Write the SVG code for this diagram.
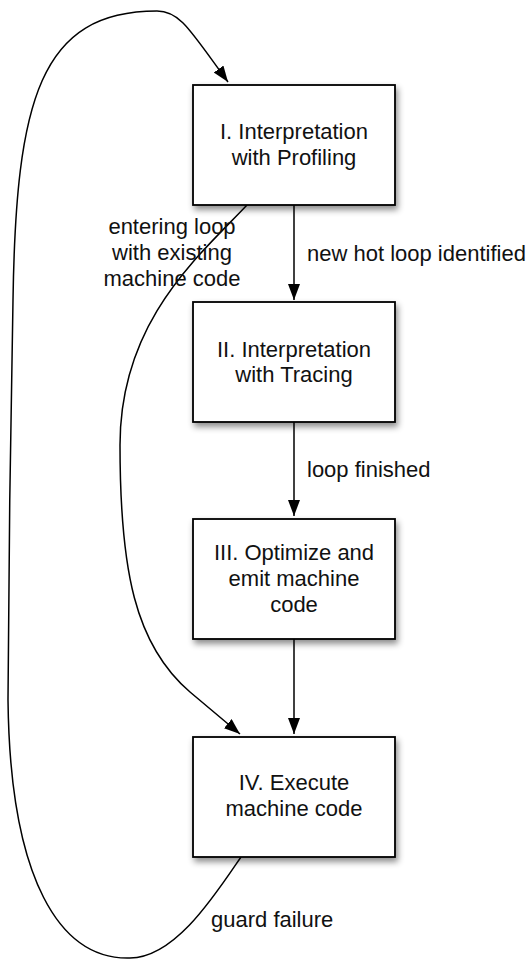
<svg xmlns="http://www.w3.org/2000/svg" width="530" height="960" viewBox="0 0 530 960">
<style>
.box{fill:#fff;stroke:#000;stroke-width:1.8;filter:url(#sh)}
.t{font-family:"Liberation Sans",Arial,sans-serif;font-size:22px;fill:#111}
.c{text-anchor:middle}
.e{fill:none;stroke:#000;stroke-width:1.5}
</style>
<defs>
<filter id="sh" x="-20%" y="-20%" width="140%" height="150%">
<feDropShadow dx="2" dy="4" stdDeviation="3" flood-color="#000" flood-opacity="0.45"/>
</filter>
<marker id="ah" markerUnits="userSpaceOnUse" markerWidth="17" markerHeight="13" refX="16" refY="6" orient="auto">
<path d="M0,0 L16,6 L0,12 z" fill="#000"/>
</marker>
</defs>
<rect width="530" height="960" fill="#fff"/>
<g id="connectors">
<path class="e" d="M294 205 L294 300" marker-end="url(#ah)"/>
<path class="e" d="M294 422 L294 516" marker-end="url(#ah)"/>
<path class="e" d="M294 639 L294 734" marker-end="url(#ah)"/>
<path class="e" d="M247 205 C200 255,120 320,120 445 C120 570,135 645,190 692 L240 734" marker-end="url(#ah)"/>
<path class="e" d="M241 857 C215 895,175 958,130 958 C60 960,10 880,8 700 C8 600,11 400,13 300 C16 100,40 11,157 11 C180 11,190 30,228 82" marker-end="url(#ah)"/>
<text class="t" x="307" y="261">new hot loop identified</text>
<text class="t" x="307" y="477">loop finished</text>
<text class="t c" x="172" y="234">entering loop</text>
<text class="t c" x="172" y="260">with existing</text>
<text class="t c" x="172" y="286">machine code</text>
<text class="t" x="211" y="927">guard failure</text>
</g>
<g id="n1">
<rect class="box" x="193" y="85" width="202" height="120"/>
<text class="t c" x="294" y="139">I. Interpretation</text>
<text class="t c" x="294" y="165">with Profiling</text>
</g>
<g id="n2">
<rect class="box" x="193" y="302" width="202" height="120"/>
<text class="t c" x="294" y="357">II. Interpretation</text>
<text class="t c" x="294" y="382">with Tracing</text>
</g>
<g id="n3">
<rect class="box" x="193" y="519" width="202" height="120"/>
<text class="t c" x="294" y="560">III. Optimize and</text>
<text class="t c" x="294" y="586">emit machine</text>
<text class="t c" x="294" y="612">code</text>
</g>
<g id="n4">
<rect class="box" x="193" y="737" width="202" height="120"/>
<text class="t c" x="294" y="790">IV. Execute</text>
<text class="t c" x="294" y="816">machine code</text>
</g>
</svg>
